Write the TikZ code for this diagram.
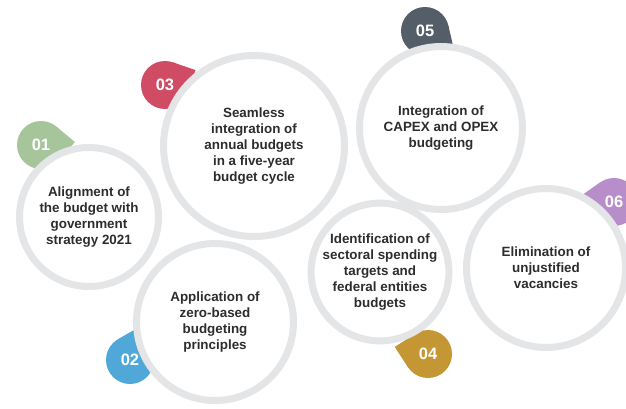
\documentclass[tikz,border=0pt]{standalone}
\usepackage{fontspec}
\setmainfont{Liberation Sans}
\usetikzlibrary{positioning}

\definecolor{ring}{RGB}{228,229,231}
\definecolor{txt}{RGB}{45,45,45}
\definecolor{c01}{RGB}{166,197,154}
\definecolor{c02}{RGB}{80,168,216}
\definecolor{c03}{RGB}{207,76,100}
\definecolor{c04}{RGB}{197,150,52}
\definecolor{c05}{RGB}{84,94,104}
\definecolor{c06}{RGB}{184,142,202}

\tikzstyle{bubble} = [draw=ring, line width=7pt, fill=white, circle,
    inner sep=0pt, align=center, text=txt,
    font=\bfseries\fontsize{13.4}{16}\selectfont]
\tikzstyle{tag} = [circle, minimum size=48pt, inner sep=0pt, outer sep=0pt]
\tikzstyle{num} = [text=white, font=\bfseries\fontsize{16.5}{18}\selectfont]

\begin{document}
\begin{tikzpicture}[x=1pt, y=1pt]
    \useasboundingbox (0,0) rectangle (626,408);
    % We start by placing the tags, the bubbles hide their tips
    \node [tag, fill=c01] (t01) at (41,263) {};
    \fill [c01] (t01.center) -- (t01.50) -- ([shift={(5:34)}]t01.center) -- (t01.320) -- cycle;
    \node [tag, fill=c03] (t03) at (165,323) {};
    \fill [c03] (t03.center) -- (t03.71) -- ([shift={(26:34)}]t03.center) -- (t03.341) -- cycle;
    \node [tag, fill=c05] (t05) at (425,377) {};
    \fill [c05] (t05.center) -- (t05.13) -- ([shift={(-32:34)}]t05.center) -- (t05.283) -- cycle;
    \node [tag, fill=c02] (t02) at (130,48) {};
    \fill [c02] (t02.center) -- (t02.120) -- ([shift={(75:34)}]t02.center) -- (t02.30) -- cycle;
    \node [tag, fill=c04] (t04) at (428,54) {};
    \fill [c04] (t04.center) -- (t04.213) -- ([shift={(168:34)}]t04.center) -- (t04.123) -- cycle;
    \node [tag, fill=c06] (t06) at (614,206) {};
    \fill [c06] (t06.center) -- (t06.215) -- ([shift={(170:34)}]t06.center) -- (t06.125) -- cycle;

    % the bubbles
    \node [bubble, minimum size=181pt] (b03) at (254,262) {Seamless\\integration of\\annual budgets\\in a five-year\\budget cycle};
    \node [bubble, minimum size=163pt] (b05) at (441,280) {Integration of\\CAPEX and OPEX\\budgeting};
    \node [bubble, minimum size=139pt] (b01) at (89,191) {Alignment of\\the budget with\\government\\strategy 2021};
    \node [bubble, minimum size=159pt] (b06) at (546,140) {Elimination of\\unjustified\\vacancies};
    \node [bubble, minimum size=135pt] (b04) at (380,136) {Identification of\\sectoral spending\\targets and\\federal entities\\budgets};
    \node [bubble, minimum size=157pt] (b02) at (215,86) {Application of\\zero-based\\budgeting\\principles};

    % numbers on top
    \node [num] (n01) at (t01) {01};
    \node [num] (n02) at (t02) {02};
    \node [num] (n03) at (t03) {03};
    \node [num] (n04) at (t04) {04};
    \node [num] (n05) at (t05) {05};
    \node [num] (n06) at (t06) {06};
\end{tikzpicture}
\end{document}
